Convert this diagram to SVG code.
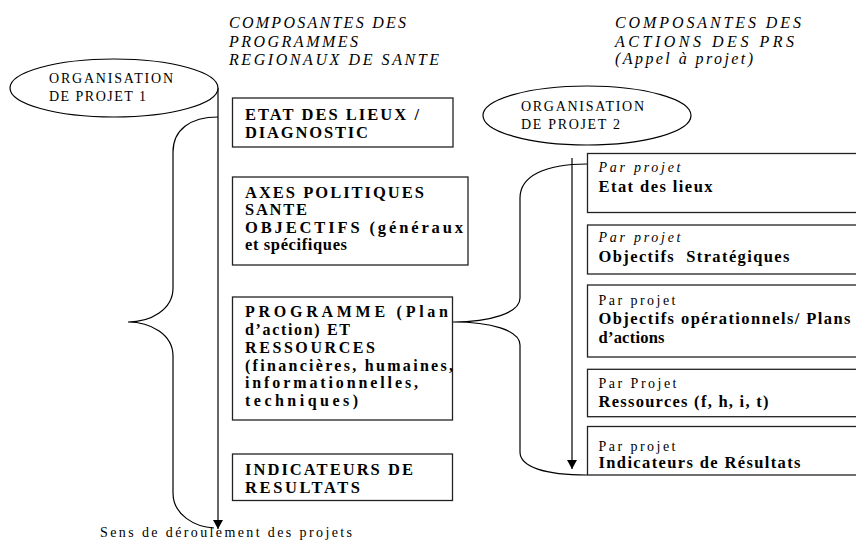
<svg xmlns="http://www.w3.org/2000/svg" width="856" height="540" viewBox="0 0 856 540">
<defs>
<style>
.t{font-family:"Liberation Serif","Times New Roman",serif;fill:#000}
.hd{font-size:16px;font-style:italic}
.el{font-size:14px}
.b{font-size:16.5px;font-weight:bold}
.bp{font-size:16px;font-weight:bold}
.i{font-size:14px;font-style:italic}
.r{font-size:14px}
.box{fill:#fff;stroke:#222;stroke-width:1.3}
.ln{fill:none;stroke:#000;stroke-width:1.2}
</style>
<marker id="ah" markerWidth="9" markerHeight="10" refX="9" refY="5" orient="auto" markerUnits="userSpaceOnUse" viewBox="0 0 9 10">
<path d="M0,0 L9,5 L0,10 Z" fill="#000"/>
</marker>
</defs>
<rect width="856" height="540" fill="#fff"/>

<g id="heading1">
<text class="t hd" x="229" y="28" textLength="177" lengthAdjust="spacing">COMPOSANTES DES</text>
<text class="t hd" x="229" y="46.5" textLength="129" lengthAdjust="spacing">PROGRAMMES</text>
<text class="t hd" x="229" y="65" textLength="210" lengthAdjust="spacing">REGIONAUX DE SANTE</text>
</g>
<g id="heading2">
<text class="t hd" x="615" y="28" textLength="186" lengthAdjust="spacing">COMPOSANTES DES</text>
<text class="t hd" x="615" y="47" textLength="179" lengthAdjust="spacing">ACTIONS DES PRS</text>
<text class="t hd" x="615" y="64" textLength="138" lengthAdjust="spacing">(Appel à projet)</text>
</g>

<g id="connectors">
<path class="ln" d="M218,88 L218,529" marker-end="url(#ah)"/>
<path class="ln" d="M218,117 C190,117 173,130 173,152 L173,288 C173,310 150,322 128,322 C150,322 173,334 173,356 L173,493 C173,515 195,527 214,528"/>
<path class="ln" d="M572,158 L572,469" marker-end="url(#ah)"/>
<path class="ln" d="M587,164 C545,164 520,176 520,198 L520,298 C520,313 490,322 453,322 C490,322 520,330 520,345 L520,452 C520,467 545,475 587,475"/>
</g>

<g id="org1">
<ellipse cx="114" cy="88" rx="104" ry="29" fill="#fff" stroke="#000" stroke-width="1.2"/>
<text class="t el" x="49" y="83" textLength="124" lengthAdjust="spacing">ORGANISATION</text>
<text class="t el" x="49" y="101" textLength="97" lengthAdjust="spacing">DE PROJET 1</text>
</g>
<g id="org2">
<ellipse cx="587" cy="115.5" rx="104" ry="29.5" fill="#fff" stroke="#000" stroke-width="1.2"/>
<text class="t el" x="521" y="111" textLength="123" lengthAdjust="spacing">ORGANISATION</text>
<text class="t el" x="521" y="129" textLength="99" lengthAdjust="spacing">DE PROJET 2</text>
</g>

<g id="box-etat">
<rect class="box" x="232.5" y="98" width="220.5" height="49"/>
<text class="t b" x="245" y="120" textLength="174" lengthAdjust="spacing">ETAT DES LIEUX /</text>
<text class="t b" x="245" y="137.5" textLength="123" lengthAdjust="spacing">DIAGNOSTIC</text>
</g>
<g id="box-axes">
<rect class="box" x="232.5" y="177" width="235.5" height="88"/>
<text class="t b" x="245" y="197.5" textLength="179" lengthAdjust="spacing">AXES POLITIQUES</text>
<text class="t b" x="245" y="215" textLength="62" lengthAdjust="spacing">SANTE</text>
<text class="t b" x="245" y="232.7" textLength="218" lengthAdjust="spacing">OBJECTIFS (généraux</text>
<text class="t b" x="245" y="250.3" textLength="102" lengthAdjust="spacing">et spécifiques</text>
</g>
<g id="box-programme">
<rect class="box" x="232.5" y="297" width="220" height="123"/>
<text class="t bp" x="245" y="317" textLength="203" lengthAdjust="spacing">PROGRAMME (Plan</text>
<text class="t bp" x="245" y="334.7" textLength="105" lengthAdjust="spacing">d’action) ET</text>
<text class="t bp" x="245" y="353" textLength="130" lengthAdjust="spacing">RESSOURCES</text>
<text class="t bp" x="245" y="370.7" textLength="208" lengthAdjust="spacing">(financières, humaines,</text>
<text class="t bp" x="245" y="388.4" textLength="173" lengthAdjust="spacing">informationnelles,</text>
<text class="t bp" x="245" y="406.2" textLength="113" lengthAdjust="spacing">techniques)</text>
</g>
<g id="box-indicateurs">
<rect class="box" x="232.5" y="454" width="220" height="46.5"/>
<text class="t b" x="245" y="474.7" textLength="168" lengthAdjust="spacing">INDICATEURS DE</text>
<text class="t b" x="245" y="492.7" textLength="115" lengthAdjust="spacing">RESULTATS</text>
</g>

<g id="r-etat">
<rect class="box" x="587.5" y="153.5" width="280" height="59"/>
<text class="t i" x="598.5" y="171.7" textLength="82" lengthAdjust="spacing">Par projet</text>
<text class="t b" x="598.5" y="191.7" textLength="114" lengthAdjust="spacing">Etat des lieux</text>
</g>
<g id="r-strat">
<rect class="box" x="587.5" y="225" width="280" height="49"/>
<text class="t i" x="598.5" y="241.7" textLength="82" lengthAdjust="spacing">Par projet</text>
<text class="t b" x="598.5" y="261.7" textLength="191" lengthAdjust="spacing" xml:space="preserve">Objectifs  Stratégiques</text>
</g>
<g id="r-oper">
<rect class="box" x="587.5" y="285" width="280" height="72"/>
<text class="t r" x="598.5" y="305" textLength="77" lengthAdjust="spacing">Par projet</text>
<text class="t b" x="598.5" y="324.3" textLength="252" lengthAdjust="spacing">Objectifs opérationnels/ Plans</text>
<text class="t b" x="598.5" y="342.7" textLength="66" lengthAdjust="spacing">d’actions</text>
</g>
<g id="r-ress">
<rect class="box" x="587.5" y="369.3" width="280" height="47.4"/>
<text class="t r" x="598.5" y="388.3" textLength="78" lengthAdjust="spacing">Par Projet</text>
<text class="t b" x="598.5" y="406.7" textLength="170" lengthAdjust="spacing">Ressources (f, h, i, t)</text>
</g>
<g id="r-ind">
<rect class="box" x="587.5" y="426.5" width="280" height="48.5"/>
<text class="t r" x="598.5" y="450.7" textLength="77" lengthAdjust="spacing">Par projet</text>
<text class="t b" x="598.5" y="468.3" textLength="202" lengthAdjust="spacing">Indicateurs de Résultats</text>
</g>

<g id="caption">
<text class="t r" x="100" y="537" textLength="252" lengthAdjust="spacing">Sens de déroulement des projets</text>
</g>
</svg>
